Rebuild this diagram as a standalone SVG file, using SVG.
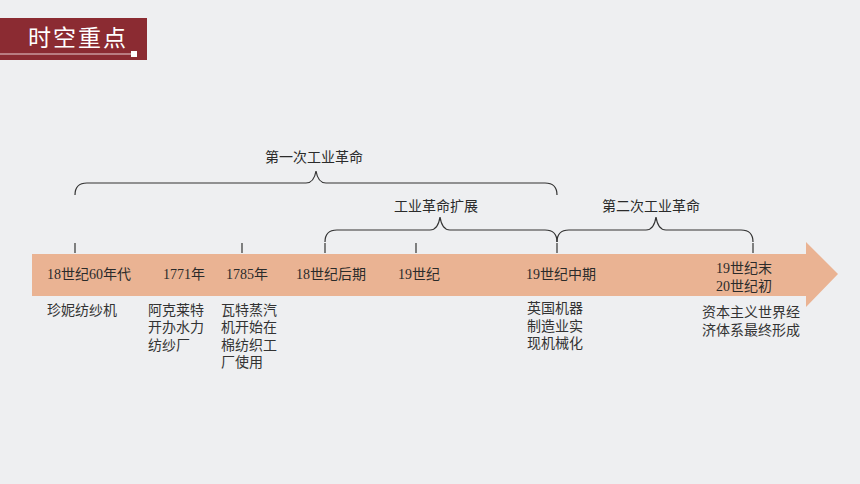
<svg xmlns="http://www.w3.org/2000/svg" width="860" height="484" viewBox="0 0 860 484">
<style>
.lbl{font-family:"Liberation Serif","Noto Sans CJK SC",serif;font-size:14px;fill:#2b2b2b}
.desc{font-family:"Liberation Serif","Noto Sans CJK SC",serif;font-size:14px;fill:#333}
.brace{fill:none;stroke:#333;stroke-width:1.2}
.tick{stroke:#333;stroke-width:1.2}
</style>
<rect width="860" height="484" fill="#eeeff1"/>
<g id="header">
<rect x="0" y="18" width="147" height="42" fill="#8b2b32"/>
<text x="28" y="46" font-family="'Noto Sans CJK SC',sans-serif" font-size="23" fill="#fff" letter-spacing="2">时空重点</text>
<line x1="0" y1="54" x2="132" y2="54" stroke="#e8cfd1" stroke-width="1"/>
<rect x="131" y="51" width="6" height="6" fill="#fff"/>
</g>
<g id="timeline-arrow">
<polygon points="32,254 806,254 806,242 838,274 806,307 806,296 32,296" fill="#eab393"/>
</g>
<g id="connectors">
<line class="tick" x1="75" y1="243" x2="75" y2="253"/>
<line class="tick" x1="242" y1="243" x2="242" y2="253"/>
<line class="tick" x1="325" y1="243" x2="325" y2="253"/>
<line class="tick" x1="416" y1="243" x2="416" y2="253"/>
<line class="tick" x1="557" y1="243" x2="557" y2="253"/>
<line class="tick" x1="753" y1="243" x2="753" y2="253"/>
<path class="brace" d="M75,195 Q75,183 87,183 L306,183 Q314,183 316,171 Q318,183 326,183 L545,183 Q557,183 557,195"/>
<path class="brace" d="M325,242 Q325,230 337,230 L430,230 Q438,230 440,217 Q442,230 450,230 L545,230 Q557,230 557,242"/>
<path class="brace" d="M557,242 Q557,230 569,230 L646,230 Q654,230 656,217 Q658,230 666,230 L741,230 Q753,230 753,242"/>
</g>
<g id="brace-labels">
<text class="lbl" x="314" y="162" text-anchor="middle">第一次工业革命</text>
<text class="lbl" x="436" y="211" text-anchor="middle">工业革命扩展</text>
<text class="lbl" x="651" y="211" text-anchor="middle">第二次工业革命</text>
</g>
<g id="node-1760s">
<text class="lbl" x="47" y="279">18世纪60年代</text>
<text class="desc" x="47" y="315">珍妮纺纱机</text>
</g>
<g id="node-1771">
<text class="lbl" x="163" y="279">1771年</text>
<text class="desc" x="148" y="315">阿克莱特</text>
<text class="desc" x="148" y="332">开办水力</text>
<text class="desc" x="148" y="350">纺纱厂</text>
</g>
<g id="node-1785">
<text class="lbl" x="226" y="279">1785年</text>
<text class="desc" x="221" y="315">瓦特蒸汽</text>
<text class="desc" x="221" y="332">机开始在</text>
<text class="desc" x="221" y="350">棉纺织工</text>
<text class="desc" x="221" y="367">厂使用</text>
</g>
<g id="node-late18">
<text class="lbl" x="296" y="279">18世纪后期</text>
</g>
<g id="node-19c">
<text class="lbl" x="398" y="279">19世纪</text>
</g>
<g id="node-mid19">
<text class="lbl" x="526" y="279">19世纪中期</text>
<text class="desc" x="527" y="313">英国机器</text>
<text class="desc" x="527" y="331">制造业实</text>
<text class="desc" x="527" y="348">现机械化</text>
</g>
<g id="node-late19">
<text class="lbl" x="744" y="273" text-anchor="middle">19世纪末</text>
<text class="lbl" x="744" y="291" text-anchor="middle">20世纪初</text>
<text class="desc" x="751" y="317" text-anchor="middle">资本主义世界经</text>
<text class="desc" x="751" y="335" text-anchor="middle">济体系最终形成</text>
</g>
</svg>
